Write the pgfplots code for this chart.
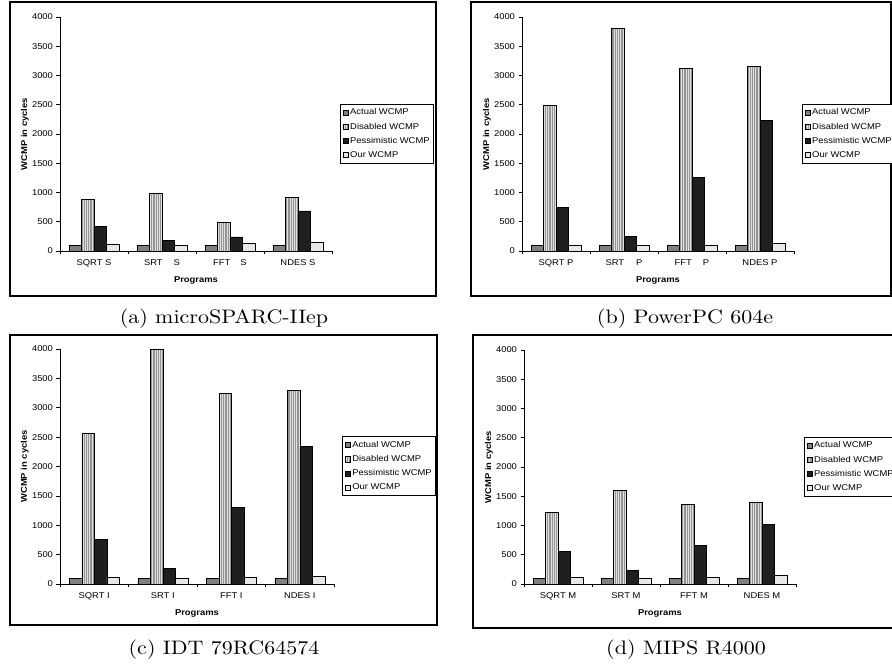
\documentclass[border=0pt]{standalone}
\usepackage{fontspec}
\usepackage{graphicx}
\usepackage{pgfplots}
\pgfplotsset{compat=1.18}
\usetikzlibrary{patterns.meta}
\newfontfamily\arial[FakeStretch=1.12]{Liberation Sans}
\newcommand\af{\arial\fontsize{8.4}{10}\selectfont}
\newcommand\capt[1]{\scalebox{2.2}[1.95]{\fontsize{10}{12}\selectfont #1}}

\pgfplotsset{
  wcmp/.style={
    scale only axis, anchor=south west,
    xmin=-0.5, xmax=3.5, ymin=0, ymax=4000,
    ybar=0pt, bar width=12.5pt,
    axis x line*=bottom, axis y line*=left,
    axis line style={-, black, line width=0.6pt},
    xtick={-0.5,0.5,1.5,2.5,3.5}, xticklabels={},
    extra x ticks={0,1,2,3},
    extra x tick style={major tick length=0pt, xticklabel style={yshift=-5pt}},
    ytick={0,500,...,4000},
    tick align=outside, major tick length=3.5pt,
    tick style={black, line width=0.6pt},
    /pgf/number format/assume math mode=true,
    /pgf/number format/1000 sep={},
    ticklabel style={font=\af},
    xlabel={Programs}, ylabel={WCMP in cycles},
    xlabel style={at={(axis description cs:0.5,-0.124)}, anchor=center, font=\af\bfseries},
    ylabel style={at={(axis description cs:-0.129,0.5)}, anchor=center, font=\af\bfseries},
    legend style={at={(axis description cs:1.03,0.628)}, anchor=north west, draw=black,
      line width=0.7pt, font=\af, inner xsep=2pt, inner ysep=2.5pt, row sep=2.6pt},
    legend cell align=left,
    legend image code/.code={\draw[#1] (0pt,-2.6pt) rectangle (5.2pt,2.6pt);},
  },
  actual/.style={draw=black, line width=0.5pt, fill=black!50},
  disabled/.style={draw=black, line width=0.5pt, preaction={fill=black!12},
    pattern={Lines[angle=90,distance=1.8pt,line width=0.8pt]}, pattern color=black!42},
  pess/.style={draw=black, line width=0.5pt, fill=black!88},
  our/.style={draw=black, line width=0.5pt, fill=black!9},
}

\begin{document}
\begin{tikzpicture}[x=1pt,y=1pt]
\path[use as bounding box] (0,0) rectangle (892,669);
\clip (0,0) rectangle (892,669);

% frames
\draw[line width=1.2pt] (10,373) rectangle (436,667);
\draw[line width=1.2pt] (471,373) rectangle (891,667);
\draw[line width=1.2pt] (10,44) rectangle (437,334);
\draw[line width=1.2pt] (473,41) rectangle (895,334);

% (a) microSPARC-IIep
\begin{axis}[wcmp, at={(60pt,418pt)}, width=272pt, height=234pt,
  extra x tick labels={SQRT S, SRT\hspace{11pt}S, FFT\hspace{10pt}S, NDES S}]
\addplot[actual] coordinates {(0,100) (1,100) (2,100) (3,100)};
\addplot[disabled] coordinates {(0,888) (1,995) (2,490) (3,920)};
\addplot[pess] coordinates {(0,422) (1,182) (2,240) (3,685)};
\addplot[our] coordinates {(0,108) (1,92) (2,135) (3,148)};
\legend{Actual WCMP, Disabled WCMP, Pessimistic WCMP, Our WCMP}
\end{axis}

% (b) PowerPC 604e
\begin{axis}[wcmp, at={(522pt,418pt)}, width=272pt, height=234pt,
  extra x tick labels={SQRT P, SRT\hspace{12pt}P, FFT\hspace{11pt}P, NDES P}]
\addplot[actual] coordinates {(0,95) (1,95) (2,95) (3,95)};
\addplot[disabled] coordinates {(0,2486) (1,3800) (2,3120) (3,3154)};
\addplot[pess] coordinates {(0,743) (1,251) (2,1257) (3,2234)};
\addplot[our] coordinates {(0,92) (1,92) (2,103) (3,131)};
\legend{Actual WCMP, Disabled WCMP, Pessimistic WCMP, Our WCMP}
\end{axis}

% (c) IDT 79RC64574
\begin{axis}[wcmp, at={(60pt,85pt)}, width=274pt, height=235pt,
  extra x tick labels={SQRT I, SRT I, FFT I, NDES I}]
\addplot[actual] coordinates {(0,97) (1,97) (2,97) (3,97)};
\addplot[disabled] coordinates {(0,2562) (1,4000) (2,3250) (3,3290)};
\addplot[pess] coordinates {(0,761) (1,267) (2,1307) (3,2341)};
\addplot[our] coordinates {(0,119) (1,97) (2,108) (3,131)};
\legend{Actual WCMP, Disabled WCMP, Pessimistic WCMP, Our WCMP}
\end{axis}

% (d) MIPS R4000
\begin{axis}[wcmp, at={(524pt,85pt)}, width=272pt, height=234pt,
  extra x tick labels={SQRT M, SRT M, FFT M, NDES M}]
\addplot[actual] coordinates {(0,97) (1,97) (2,97) (3,97)};
\addplot[disabled] coordinates {(0,1219) (1,1601) (2,1362) (3,1396)};
\addplot[pess] coordinates {(0,558) (1,228) (2,661) (3,1020)};
\addplot[our] coordinates {(0,114) (1,97) (2,114) (3,148)};
\legend{Actual WCMP, Disabled WCMP, Pessimistic WCMP, Our WCMP}
\end{axis}

% captions
\node[anchor=base, inner sep=0pt] at (224,345.5) {\capt{(a) microSPARC-IIep}};
\node[anchor=base, inner sep=0pt] at (685,345.5) {\capt{(b) PowerPC 604e}};
\node[anchor=base, inner sep=0pt] at (224,14) {\capt{(c) IDT 79RC64574}};
\node[anchor=base, inner sep=0pt] at (686,14) {\capt{(d) MIPS R4000}};
\end{tikzpicture}
\end{document}
